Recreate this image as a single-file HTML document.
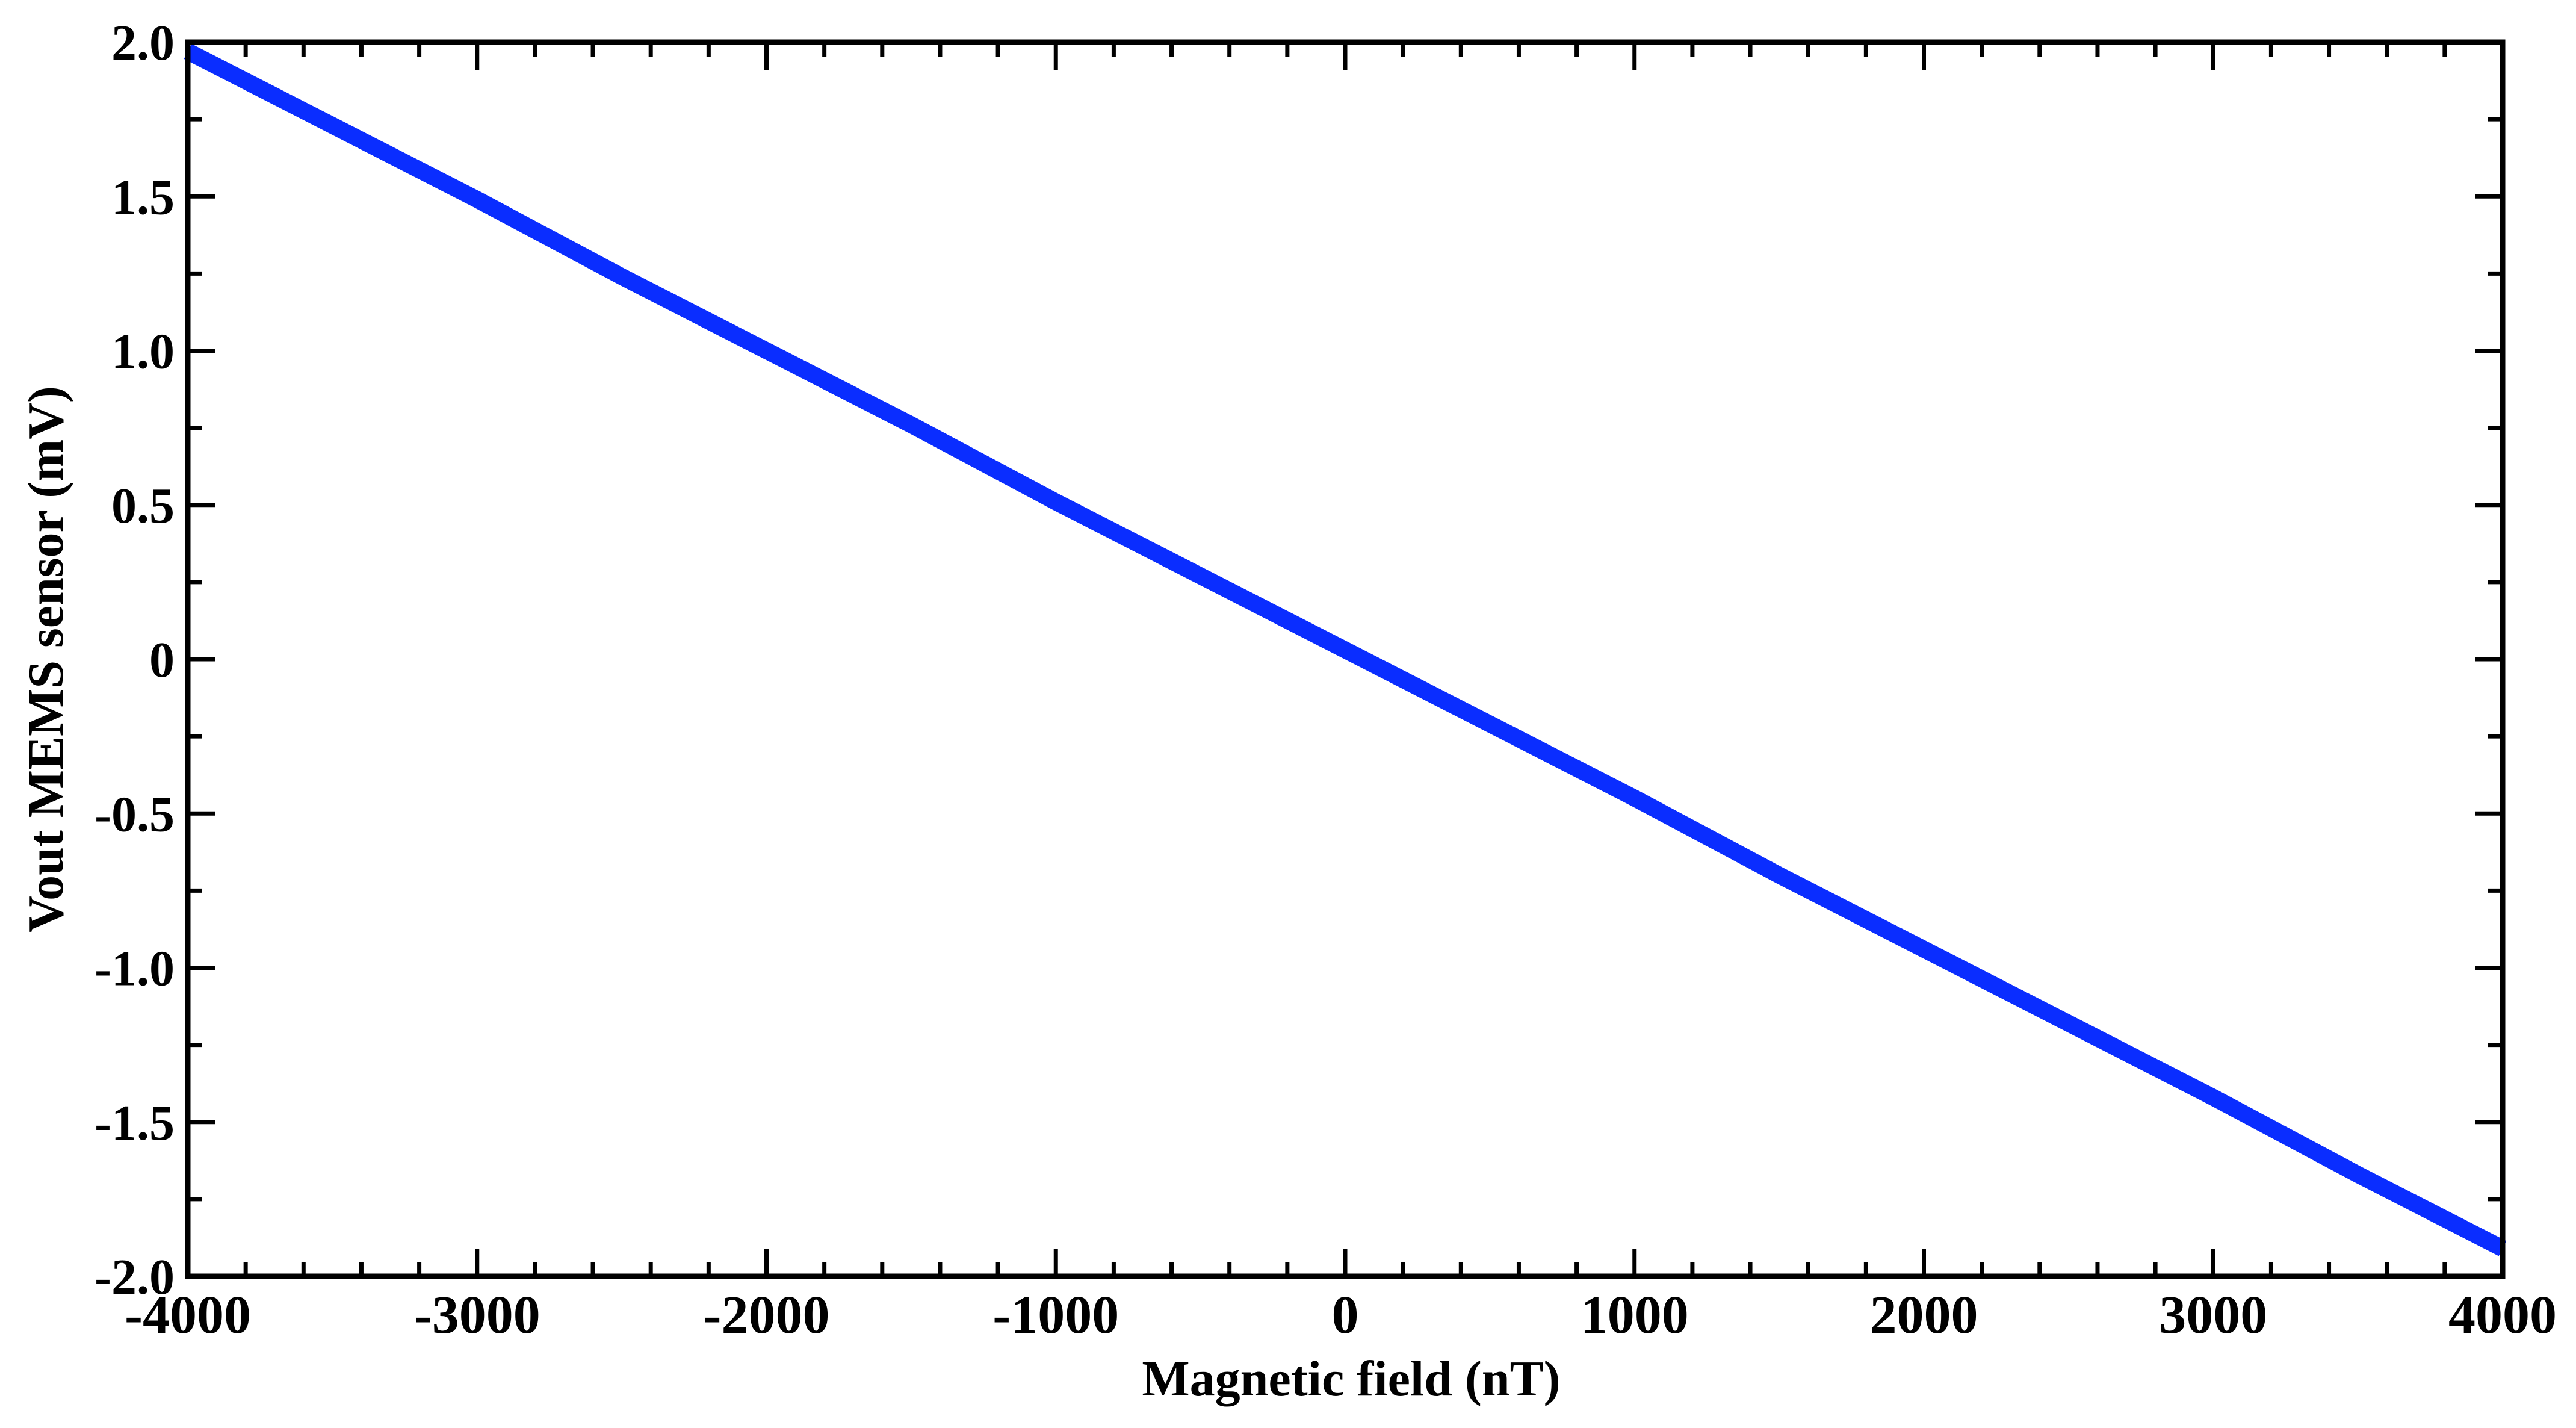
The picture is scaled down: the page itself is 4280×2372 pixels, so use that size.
<!DOCTYPE html>
<html><head><meta charset="utf-8"><style>
html,body{margin:0;padding:0;background:#fff;}
svg{display:block;}
text{font-family:"Liberation Serif",serif;font-weight:bold;fill:#000;}
</style></head><body>
<svg id="chart" width="4280" height="2372" viewBox="0 0 4280 2372" xmlns="http://www.w3.org/2000/svg"></svg>
<script>
const xTicks=[-4000,-3000,-2000,-1000,0,1000,2000,3000,4000];
const xTickLabels=["-4000","-3000","-2000","-1000","0","1000","2000","3000","4000"];
const yTicks=[2.0,1.5,1.0,0.5,0,-0.5,-1.0,-1.5,-2.0];
const yTickLabels=["2.0","1.5","1.0","0.5","0","-0.5","-1.0","-1.5","-2.0"];
const fieldValues=[-4000,-3500,-3000,-2500,-2000,-1500,-1000,-500,0,500,1000,1500,2000,2500,3000,3500,4000];
const voutValues=[1.97,1.73,1.49,1.24,1.00,0.76,0.51,0.27,0.03,-0.21,-0.45,-0.70,-0.94,-1.18,-1.42,-1.67,-1.91];

const svg=document.getElementById('chart');
const NS="http://www.w3.org/2000/svg";
const L=312,R=4158,T=70,B=2120;
const xs=v=>L+(v+4000)/8000*(R-L);
const ys=v=>T+(2-v)/4*(B-T);
function mk(tag,attrs){const e=document.createElementNS(NS,tag);for(const k in attrs)e.setAttribute(k,attrs[k]);svg.appendChild(e);return e;}

for(let v=-4000;v<=4000;v+=200){
  const major=v%1000===0;const len=major?46:24;const x=xs(v);
  const t1=mk('line',{x1:x,x2:x,y1:B,y2:B-len,stroke:'#000','stroke-width':7});
  
  
  const t2=mk('line',{x1:x,x2:x,y1:T,y2:T+len,stroke:'#000','stroke-width':7});
  
  
}
for(let i=0;i<=16;i++){
  const v=2-i*0.25;const major=i%2===0;const len=major?46:24;const y=ys(v);
  const t1=mk('line',{x1:L,x2:L+len,y1:y,y2:y,stroke:'#000','stroke-width':7});
  
  
  const t2=mk('line',{x1:R,x2:R-len,y1:y,y2:y,stroke:'#000','stroke-width':7});
  
  
}
const pts=fieldValues.map((f,i)=>xs(f)+','+ys(voutValues[i])).join(' ');
const line=mk('polyline',{points:pts,fill:'none',stroke:'#0a2dff','stroke-width':28,'stroke-linejoin':'round'});


const fr=mk('rect',{x:L,y:T,width:R-L,height:B-T,fill:'none',stroke:'#000','stroke-width':9});


xTicks.forEach((v,i)=>{
  const t=mk('text',{x:xs(v),y:2214,'font-size':90,'text-anchor':'middle'});
  t.textContent=xTickLabels[i];
  
  
});
yTicks.forEach((v,i)=>{
  const t=mk('text',{x:290,y:ys(v)+29,'font-size':84,'text-anchor':'end'});
  t.textContent=yTickLabels[i];
  
  
});
const xt=mk('text',{x:(L+R)/2+10,y:2318,'font-size':84,'text-anchor':'middle'});
xt.textContent='Magnetic field (nT)';


const yt=mk('text',{x:0,y:0,'font-size':84,'text-anchor':'middle',transform:'translate(104,1095) rotate(-90)'});
yt.textContent='Vout MEMS sensor (mV)';


</script>
</body></html>
